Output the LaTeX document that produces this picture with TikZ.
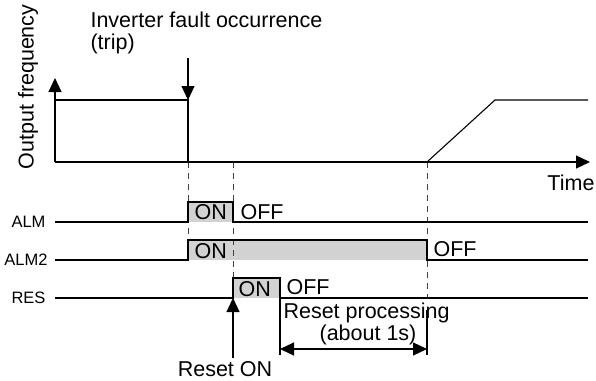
\documentclass[tikz,border=0pt]{standalone}
\usepackage{fontspec}
\setmainfont{Liberation Sans}
\usetikzlibrary{arrows.meta, calc}

\begin{document}
\begin{tikzpicture}[x=1pt, y=-1pt, line width=1.1pt,
	tip/.style={-{Triangle[length=14pt, width=13pt]}},
	guide/.style={line width=0.8pt, black!75, dash pattern=on 6pt off 5pt},
	lbl/.style={font=\fontsize{21.5}{24}\selectfont, inner sep=0pt},
	sig/.style={font=\fontsize{16.5}{19}\selectfont, inner sep=0pt, anchor=base east}]
	\useasboundingbox (0,0) rectangle (596,380);
	% time marks on the time axis
	\coordinate (O) at (55,162);
	\coordinate (T) at (188,162);
	\coordinate (R) at (233,162);
	\coordinate (S) at (427,162);
	% shaded ON intervals
	\fill[gray!35] (188,202) rectangle (233,222);
	\fill[gray!35] (188,240) rectangle (427,260);
	\fill[gray!35] (233,278) rectangle (280,298);
	% dashed guides
	\draw[guide] (T) -- (188,240);
	\draw[guide] (R) -- (233,278);
	\draw[guide] (S) -- (427,298);
	% output frequency
	\draw[tip] (O) -- (55,78);
	\draw[tip] (O) -- (590,162);
	\draw (55,100) -- (188,100) -- (T);
	\draw (S) -- (495,100) -- (588,100);
	\draw[tip] (188,58) -- (188,100);
	% signals
	\draw (55,222) -| (188,202) -| (233,222) -- (588,222);
	\draw (55,260) -| (188,240) -| (427,260) -- (588,260);
	\draw (55,298) -| (233,278) -| (280,298) -- (588,298);
	% reset processing
	\draw (280,298) -- (280,355);
	\draw (427,310) -- (427,355);
	\draw[{Triangle[length=14pt, width=13pt]}-{Triangle[length=14pt, width=13pt]}] (280,349) -- (427,349);
	\draw[tip] (233,358) -- (233,298);
	% texts
	\node[lbl, anchor=base west] (fault) at (90,27) {Inverter fault occurrence};
	\node[lbl, anchor=base west] (trip) at (90,49) {(trip)};
	\node[lbl, rotate=90] (freq) at (28,87) {Output frequency};
	\node[lbl, anchor=base east] (time) at (595,190) {Time};
	\node[sig] (alm) at (46,227) {ALM};
	\node[sig] (alm2) at (48,265) {ALM2};
	\node[sig] (res) at (46,303) {RES};
	\node[lbl, anchor=base west] (almon) at (194,219) {ON};
	\node[lbl, anchor=base west] (almoff) at (240,219) {OFF};
	\node[lbl, anchor=base west] (alm2on) at (194,258) {ON};
	\node[lbl, anchor=base west] (alm2off) at (433,256) {OFF};
	\node[lbl, anchor=base west] (reson) at (238,296) {ON};
	\node[lbl, anchor=base west] (resoff) at (286,294) {OFF};
	\node[lbl, anchor=base west] (proc) at (283,318) {Reset processing};
	\node[lbl, anchor=base] (about) at (368,340) {(about 1s)};
	\node[lbl, anchor=base] (reseton) at (225,376) {Reset ON};
\end{tikzpicture}
\end{document}
